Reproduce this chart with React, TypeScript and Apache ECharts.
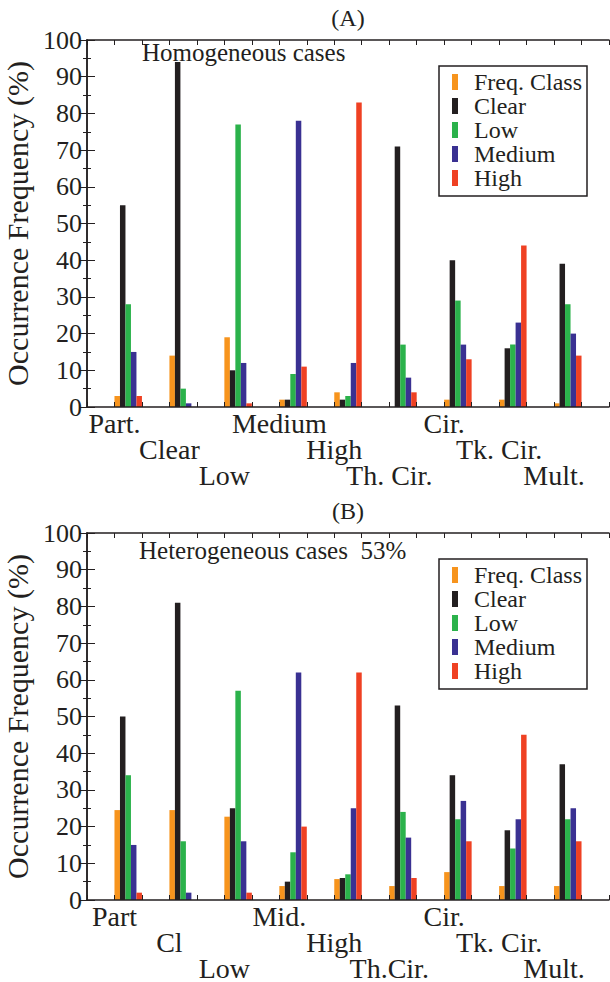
import React, { useEffect, useRef } from 'react';
import * as echarts from 'echarts';

const seriesNames = ['Freq. Class', 'Clear', 'Low', 'Medium', 'High'];
const seriesColors = ['#f7941d', '#231f20', '#2bb24b', '#3a3192', '#ef4123'];

const categoriesA = ['Part.', 'Clear', 'Low', 'Medium', 'High', 'Th. Cir.', 'Cir.', 'Tk. Cir.', 'Mult.'];
const categoriesB = ['Part', 'Cl', 'Low', 'Mid.', 'High', 'Th.Cir.', 'Cir.', 'Tk. Cir.', 'Mult.'];

const freqA = [3, 14, 19, 2, 4, 0, 2, 2, 1];
const clearA = [55, 94, 10, 2, 2, 71, 40, 16, 39];
const lowA = [28, 5, 77, 9, 3, 17, 29, 17, 28];
const mediumA = [15, 1, 12, 78, 12, 8, 17, 23, 20];
const highA = [3, 0, 1, 11, 83, 4, 13, 44, 14];

const freqB = [24.5, 24.5, 22.7, 3.8, 5.7, 3.8, 7.6, 3.8, 3.8];
const clearB = [50, 81, 25, 5, 6, 53, 34, 19, 37];
const lowB = [34, 16, 57, 13, 7, 24, 22, 14, 22];
const mediumB = [15, 2, 16, 62, 25, 17, 27, 22, 25];
const highB = [2, 0, 2, 20, 62, 6, 16, 45, 16];

const panelTitles = ['(A)', '(B)'];
const panelNotes = ['Homogeneous cases', 'Heterogeneous cases  53%'];
const yAxisTitle = 'Occurrence Frequency (%)';

const FONT = "'Liberation Serif', 'Times New Roman', serif";
const INK = '#231f20';
const UNITS = 19;

function bandData(vals: number[]) {
  const arr: (number | string)[] = new Array(UNITS).fill('-');
  vals.forEach((v, i) => {
    arr[2 * i + 1] = v;
  });
  return arr;
}

function labelFormatter(cats: string[]) {
  return (v: number) => {
    const r = Math.round(v);
    if (r % 2 === 1) {
      const i = (r - 1) / 2;
      if (i < cats.length) return '\n'.repeat(i % 3) + cats[i];
    }
    return '';
  };
}

export default function App() {
  const ref = useRef<HTMLDivElement>(null);

  useEffect(() => {
    if (!ref.current) return;
    const chart = echarts.init(ref.current, undefined, { renderer: 'svg' });

    const panels = [
      { cats: categoriesA, data: [freqA, clearA, lowA, mediumA, highA], top: 40 },
      { cats: categoriesB, data: [freqB, clearB, lowB, mediumB, highB], top: 533 },
    ];
    const lineStyle = { color: INK, width: 1.5 };
    const gridWidth = 522;
    const barW = gridWidth / UNITS / seriesNames.length;

    const grid: any[] = [];
    const xAxis: any[] = [];
    const yAxis: any[] = [];
    const series: any[] = [];
    const legend: any[] = [];
    const graphic: any[] = [];

    panels.forEach((p, g) => {
      grid.push({
        left: 87,
        top: p.top,
        width: gridWidth,
        height: 367,
        containLabel: false,
        outerBoundsMode: 'none',
      });
      const catIdx = xAxis.length;
      xAxis.push({
        type: 'category',
        gridIndex: g,
        data: Array.from({ length: UNITS }, (_, i) => String(i)),
        boundaryGap: true,
        show: false,
      });
      xAxis.push({
        type: 'value',
        gridIndex: g,
        position: 'bottom',
        min: 0,
        max: UNITS,
        interval: 1,
        z: 10,
        axisLine: { show: true, onZero: false, lineStyle },
        axisTick: { show: true, inside: true, length: 5, lineStyle: { color: INK, width: 1 } },
        splitLine: { show: false },
        axisLabel: {
          formatter: labelFormatter(p.cats),
          fontFamily: FONT,
          fontSize: 28,
          lineHeight: 26,
          margin: 3,
          color: INK,
          showMinLabel: true,
          showMaxLabel: true,
        },
      });
      xAxis.push({
        type: 'value',
        gridIndex: g,
        position: 'top',
        min: 0,
        max: UNITS,
        interval: 1,
        z: 10,
        axisLine: { show: true, onZero: false, lineStyle },
        axisTick: { show: true, inside: true, length: 5, lineStyle: { color: INK, width: 1 } },
        splitLine: { show: false },
        axisLabel: { show: false },
      });
      const yIdx = yAxis.length;
      const yCommon = {
        type: 'value',
        gridIndex: g,
        min: 0,
        max: 100,
        interval: 10,
        z: 10,
        axisLine: { show: true, lineStyle },
        axisTick: { show: true, inside: true, length: 8, lineStyle: { color: INK, width: 1 } },
        minorTick: { show: true, splitNumber: 2, length: 4, lineStyle: { color: INK, width: 1 } },
        splitLine: { show: false },
        minorSplitLine: { show: false },
      };
      yAxis.push({
        ...yCommon,
        position: 'left',
        axisLabel: { fontFamily: FONT, fontSize: 26, color: INK, margin: 5 },
        name: yAxisTitle,
        nameLocation: 'middle',
        nameRotate: 90,
        nameGap: 51,
        nameTextStyle: { fontFamily: FONT, fontSize: 30, color: INK },
      });
      yAxis.push({
        ...yCommon,
        position: 'right',
        axisLabel: { show: false },
      });
      seriesNames.forEach((name, k) => {
        series.push({
          type: 'bar',
          name,
          xAxisIndex: catIdx,
          yAxisIndex: yIdx,
          data: bandData(p.data[k]),
          barWidth: barW,
          barGap: '0%',
          barCategoryGap: '0%',
          itemStyle: { color: seriesColors[k] },
        });
      });
      legend.push({
        orient: 'vertical',
        left: 439,
        top: p.top + 26,
        icon: 'rect',
        itemWidth: 6,
        itemHeight: 16,
        itemGap: 0,
        padding: [4, 5, 6, 13],
        borderColor: INK,
        borderWidth: 1.5,
        selectedMode: false,
        data: seriesNames,
        textStyle: { fontFamily: FONT, fontSize: 24, color: INK, padding: [0, 0, 0, 11] },
      });
      graphic.push({
        type: 'text',
        x: 348,
        y: p.top - 22,
        style: { text: panelTitles[g], font: `24px ${FONT}`, fill: INK, align: 'center', verticalAlign: 'middle' },
      });
      graphic.push({
        type: 'text',
        x: g === 0 ? 142 : 139,
        y: p.top + (g === 0 ? 12 : 17),
        style: { text: panelNotes[g], font: `25px ${FONT}`, fill: INK, align: 'left', verticalAlign: 'middle' },
      });
    });

    chart.setOption({
      animation: false,
      backgroundColor: '#ffffff',
      grid,
      xAxis,
      yAxis,
      series,
      legend,
      graphic,
    });

    return () => chart.dispose();
  }, []);

  return <div ref={ref} style={{ position: 'absolute', left: 0, top: 0, width: 610, height: 982 }} />;
}
